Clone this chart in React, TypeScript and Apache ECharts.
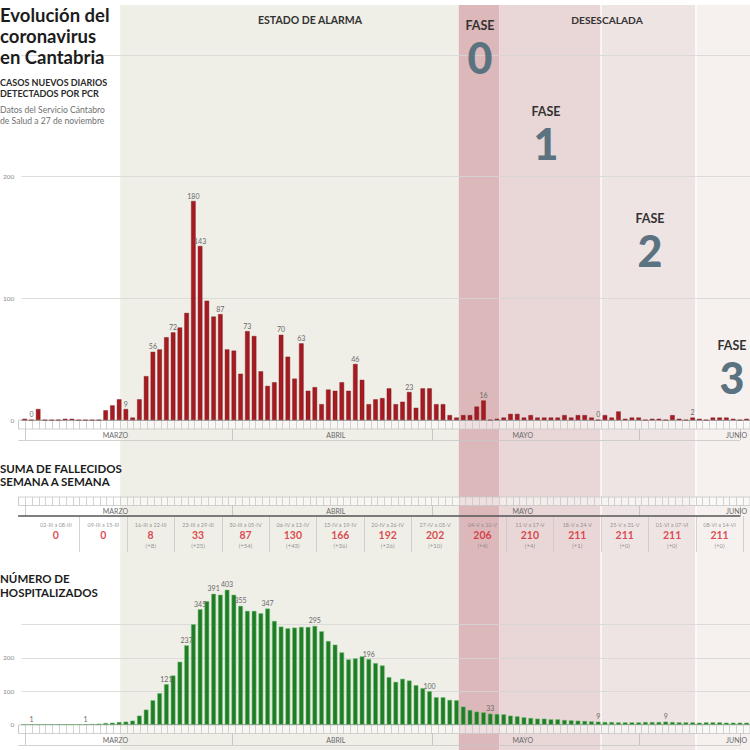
import React, { useEffect, useRef } from 'react';
import * as echarts from 'echarts';

// ---- categories (29-II ... 15-VI, 2020) ----
const monthLens = [1, 31, 30, 31, 15];
const romans = ['II', 'III', 'IV', 'V', 'VI'];
const days: string[] = [];
monthLens.forEach((n, m) => {
  for (let d = 1; d <= n; d++) days.push(`${m === 0 ? 29 : d}-${romans[m]}`);
});

const monthNames = ['MARZO', 'ABRIL', 'MAYO', 'JUNIO'];
const monthLabelIdx = [14, 47, 75, 107];
const monthStartIdx = [1, 32, 62, 93];

// ---- daily new PCR cases ----
const casesDaily = [
  1, 0, 9, 0, 0, 0, 1, 1, 0, 0,
  0, 0, 8, 12, 17, 9, 2, 17, 36, 56,
  58, 68, 72, 76, 88, 180, 143, 98, 85, 87,
  58, 57, 38, 73, 69, 40, 28, 31, 70, 52,
  34, 63, 24, 27, 13, 25, 24, 31, 24, 46,
  33, 13, 17, 18, 26, 13, 15, 23, 10, 26,
  26, 13, 13, 4, 2, 4, 4, 11, 16, 0,
  1, 2, 5, 5, 2, 4, 2, 2, 2, 2,
  4, 2, 4, 4, 2, 0, 4, 2, 7, 1,
  2, 2, 0, 1, 1, 0, 4, 1, 0, 2,
  1, 0, 2, 2, 2, 1, 0, 1,
];
const casesLabelIdx = [1, 15, 19, 22, 25, 26, 29, 33, 38, 41, 49, 57, 68, 85, 99];

// ---- hospitalized ----
const hospitalized = [
  1, 1, 1, 1, 1, 1, 1, 1, 1, 1,
  2, 3, 5, 6, 8, 9, 12, 27, 45, 73,
  94, 121, 147, 188, 237, 300, 345, 369, 391, 388,
  403, 388, 355, 340, 340, 333, 347, 310, 293, 288,
  290, 292, 292, 295, 279, 250, 239, 216, 195, 198,
  204, 196, 184, 177, 142, 128, 137, 132, 118, 109,
  100, 82, 82, 74, 73, 54, 44, 39, 37, 33,
  32, 31, 27, 25, 22, 20, 18, 18, 16, 16,
  14, 13, 12, 11, 10, 9, 8, 8, 7, 7,
  7, 7, 8, 8, 8, 9, 8, 7, 7, 7,
  6, 7, 7, 7, 6, 6, 6, 6,
];
const hospLabelIdx = [1, 9, 21, 24, 26, 28, 30, 32, 36, 43, 51, 60, 69, 85, 95];

// ---- weekly deaths table ----
const weekRanges = [
  '02-III a 08-III', '09-III a 15-III', '16-III a 22-III', '23-III a 29-III',
  '30-III a 05-IV', '06-IV a 12-IV', '13-IV a 19-IV', '20-IV a 26-IV',
  '27-IV a 03-V', '04-V a 10-V', '11-V a 17-V', '18-V a 24-V',
  '25-V a 31-V', '01-VI a 07-VI', '08-VI a 14-VI',
];
const weekDeaths = [0, 0, 8, 33, 87, 130, 166, 192, 202, 206, 210, 211, 211, 211, 211];
const weekDelta = [null, null, 8, 25, 54, 43, 36, 26, 10, 4, 4, 1, 0, 0, 0];
const weekStartIdx = 2;

// ---- periods (day-index boundaries) ----
const periodBounds = [14.5, 64.5, 70.5, 85.5, 99.5, 107.5];
const periodColors = ['#efeee7', '#dcb8ba', '#e9d6d6', '#efe4e4', '#f6f1ef'];
const periodDividers = [85.5, 99.5];

const L = 18.6;
const W = 732.24;
const FONT = 'Lato';
const AZ = 10;

function catAxis(gridIndex: number, extra: any = {}) {
  return {
    type: 'category',
    gridIndex,
    z: AZ,
    data: days,
    boundaryGap: true,
    axisLine: { show: false },
    axisTick: { show: false },
    axisLabel: { show: false },
    splitLine: { show: false },
    ...extra,
  };
}
function hiddenY(gridIndex: number) {
  return { type: 'value', gridIndex, min: 0, max: 1, show: false, splitLine: { show: false } };
}
const plainGrid = (top: number, height: number) => ({ left: L, width: W, top, height, z: AZ });
const stripGrid = (top: number, height: number) => ({
  left: L, width: W, top, height, show: true, z: AZ,
  backgroundColor: 'rgba(255,255,255,0.55)', borderColor: '#c6c6c6', borderWidth: 0.8,
});
const stripX = (g: number) => catAxis(g, {
  splitLine: { show: true, interval: 0, lineStyle: { color: '#c6c6c6', width: 0.8 } },
});
const monthX = (g: number, lineColor: string, lineWidth: number) => catAxis(g, {
  axisLine: { show: true, lineStyle: { color: lineColor, width: lineWidth } },
  axisLabel: {
    show: true, inside: true, margin: 2, fontSize: 7, color: '#6a6a6a', fontFamily: FONT,
    interval: (i: number) => monthLabelIdx.includes(i),
    formatter: (_v: string, i: number) => monthNames[monthLabelIdx.indexOf(i)] || '',
  },
  splitLine: { show: true, interval: (i: number) => monthStartIdx.includes(i), lineStyle: { color: '#bdbdbd', width: 0.8 } },
});
const valueY = (g: number) => ({
  type: 'value', gridIndex: g, min: 0, max: 300, interval: 100, z: AZ,
  axisLine: { show: false }, axisTick: { show: false },
  axisLabel: { fontSize: 6.5, color: '#8a8a8a', margin: 7, fontFamily: FONT, formatter: (v: number) => (v === 300 ? '' : String(v)) },
  splitLine: { lineStyle: { color: '#d6d6d6', width: 0.8 } },
});

function txt(text: string, x: number, y: number, fontSize: number, opts: any = {}) {
  return {
    type: 'text', x, y, silent: true, z: 50,
    style: {
      text, fontSize, fontFamily: opts.family || FONT, fontWeight: opts.weight || 'normal',
      fill: opts.color || '#222', align: opts.align || 'left', verticalAlign: 'middle',
    },
  };
}

// y positions (0..1 in the 36px table-cell grid) for the three cell lines
const cellY = { date: 0.74, value: 0.47, delta: 0.19 };

export default function App() {
  const ref = useRef<HTMLDivElement>(null);
  useEffect(() => {
    if (!ref.current) return;
    const chart = echarts.init(ref.current, null, { renderer: 'svg' });

    const barLabel = { position: 'top', distance: 2, fontSize: 7, color: '#6a6a6a', fontFamily: FONT };
    const cellSeries = (key: 'date' | 'value' | 'delta', fmt: (k: number) => string, style: any) => ({
      type: 'scatter', xAxisIndex: 6, yAxisIndex: 6, symbolSize: 0, silent: true, z: 12,
      data: weekDeaths.map((_v, k) => [weekStartIdx + 3 + 7 * k, cellY[key]]),
      label: {
        show: true, position: 'inside', fontFamily: FONT,
        formatter: (p: any) => fmt(p.dataIndex),
        ...style,
      },
    });

    const option: any = {
      animation: false,
      backgroundColor: '#ffffff',
      textStyle: { fontFamily: FONT },
      grid: [
        { left: L, width: W, top: 5, height: 745, z: 0 },   // 0 shading
        plainGrid(55, 365),                                 // 1 cases chart
        stripGrid(420, 9),                                  // 2
        plainGrid(429, 11),                                 // 3 months
        stripGrid(497, 8.5),                                // 4
        plainGrid(505.5, 10.5),                             // 5 months
        plainGrid(516, 36),                                 // 6 table cells
        plainGrid(624.3, 100.4),                            // 7 hospital chart
        stripGrid(725, 8.5),                                // 8
        plainGrid(733.5, 11.5),                             // 9 months
      ],
      xAxis: [
        { type: 'value', gridIndex: 0, min: -0.5, max: 107.5, show: false, splitLine: { show: false } },
        catAxis(1, { axisLine: { show: true, lineStyle: { color: '#9a9a9a', width: 0.8 } } }),
        stripX(2),
        monthX(3, '#c6c6c6', 0.8),
        stripX(4),
        monthX(5, '#555555', 1.5),
        catAxis(6, {
          splitLine: {
            show: true,
            interval: (i: number) => i > weekStartIdx && (i - weekStartIdx) % 7 === 0,
            lineStyle: { color: '#c8c8c8', width: 0.8 },
          },
        }),
        catAxis(7, { axisLine: { show: true, lineStyle: { color: '#9a9a9a', width: 0.8 } } }),
        stripX(8),
        monthX(9, '#c6c6c6', 0.8),
      ],
      yAxis: [
        hiddenY(0), valueY(1), hiddenY(2), hiddenY(3), hiddenY(4), hiddenY(5), hiddenY(6),
        valueY(7), hiddenY(8), hiddenY(9),
      ],
      series: [
        {
          type: 'scatter', xAxisIndex: 0, yAxisIndex: 0, data: [[0, 0]], symbolSize: 0, silent: true, z: 1,
          markArea: {
            silent: true,
            data: periodColors.map((c, k) => [
              { xAxis: periodBounds[k], itemStyle: { color: c } },
              { xAxis: periodBounds[k + 1] },
            ]),
          },
          markLine: {
            silent: true, symbol: 'none', label: { show: false },
            lineStyle: { color: '#ffffff', width: 1.5, type: 'solid', opacity: 0.9 },
            data: periodDividers.map((d) => ({ xAxis: d })),
          },
        },
        {
          type: 'bar', xAxisIndex: 1, yAxisIndex: 1, barWidth: 4.5, clip: false, z: 12,
          itemStyle: { color: '#a51b21', borderColor: '#7a1116', borderWidth: 0.4 },
          label: barLabel,
          data: casesDaily.map((v, i) => (casesLabelIdx.includes(i) ? { value: v, label: { show: true } } : v)),
        },
        cellSeries('date', (k) => weekRanges[k], { fontSize: 5.5, color: '#7a7a7a' }),
        cellSeries('value', (k) => String(weekDeaths[k]), { fontSize: 10.5, fontWeight: 'bold', color: '#d42029' }),
        cellSeries('delta', (k) => (weekDelta[k] === null ? '' : `(+${weekDelta[k]})`), { fontSize: 6, color: '#7a7a7a' }),
        {
          type: 'bar', xAxisIndex: 7, yAxisIndex: 7, barWidth: 4.6, clip: false, z: 12,
          itemStyle: { color: '#1f7d27', borderColor: '#6cbf6c', borderWidth: 0.5 },
          label: barLabel,
          data: hospitalized.map((v, i) => (hospLabelIdx.includes(i) ? { value: v, label: { show: true } } : v)),
        },
      ],
      graphic: [
        txt('Evolución del', 0, 15, 18.5, { weight: 'bold', color: '#1c1c1c' }),
        txt('coronavirus', 0, 36, 18.5, { weight: 'bold', color: '#1c1c1c' }),
        txt('en Cantabria', 0, 56.5, 18.5, { weight: 'bold', color: '#1c1c1c' }),
        txt('CASOS NUEVOS DIARIOS', 0, 82, 9, { weight: 'bold', color: '#2a2a2a' }),
        txt('DETECTADOS POR PCR', 0, 93, 9, { weight: 'bold', color: '#2a2a2a' }),
        txt('Datos del Servicio Cántabro', 0, 110, 8.6, { color: '#707070' }),
        txt('de Salud a 27 de noviembre', 0, 120.5, 8.6, { color: '#707070' }),
        txt('SUMA DE FALLECIDOS', 0, 468, 11.5, { weight: 'bold', color: '#1c1c1c' }),
        txt('SEMANA A SEMANA', 0, 481, 11.5, { weight: 'bold', color: '#1c1c1c' }),
        txt('NÚMERO DE', 0, 578, 11.5, { weight: 'bold', color: '#1c1c1c' }),
        txt('HOSPITALIZADOS', 0, 592, 11.5, { weight: 'bold', color: '#1c1c1c' }),
        txt('ESTADO DE ALARMA', 310, 20, 10.5, { weight: 'bold', color: '#333', align: 'center' }),
        txt('DESESCALADA', 607, 20, 10.2, { weight: 'bold', color: '#333', align: 'center' }),
        txt('FASE', 480, 25, 12.5, { weight: 'bold', color: '#333', align: 'center' }),
        txt('0', 480, 57, 43, { weight: 900, color: '#5b7281', align: 'center' }),
        txt('FASE', 546, 111, 12.5, { weight: 'bold', color: '#333', align: 'center' }),
        txt('1', 546, 143, 43, { weight: 900, color: '#5b7281', align: 'center' }),
        txt('FASE', 650, 218, 12.5, { weight: 'bold', color: '#333', align: 'center' }),
        txt('2', 650, 250, 43, { weight: 900, color: '#5b7281', align: 'center' }),
        txt('FASE', 732, 345, 12.5, { weight: 'bold', color: '#333', align: 'center' }),
        txt('3', 732, 377, 43, { weight: 900, color: '#5b7281', align: 'center' }),
      ],
    };
    chart.setOption(option);
    return () => chart.dispose();
  }, []);
  return (
    <div
      ref={ref}
      style={{ position: 'fixed', left: 0, top: 0, width: 750, height: 750, background: '#fff' }}
    />
  );
}
